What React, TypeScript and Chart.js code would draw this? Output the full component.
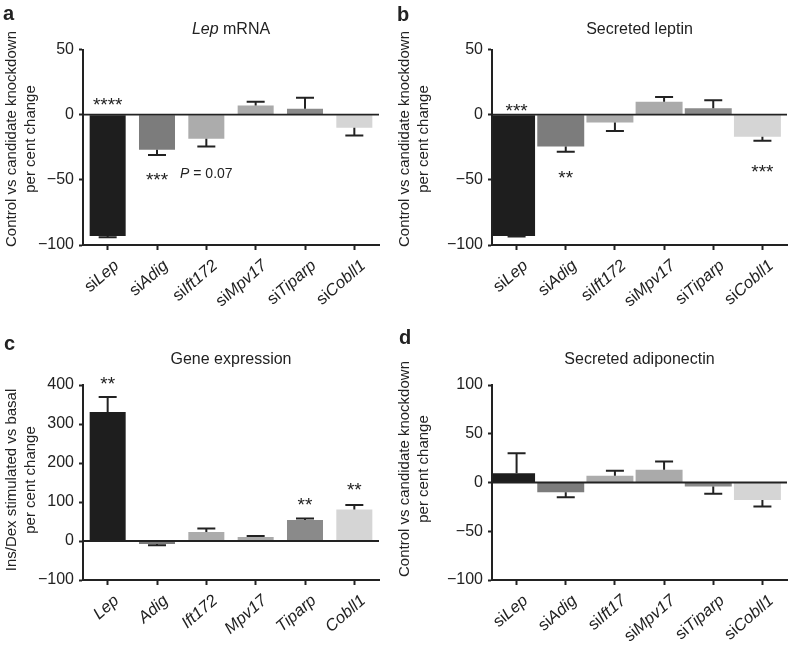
import React, { useEffect, useRef } from 'react';
import { Chart, registerables } from 'chart.js';

Chart.register(...registerables);

const FONT = "Arial, 'Liberation Sans', Helvetica, sans-serif";
const INK = '#222222';

// ---------- data ----------
const siCategories = ['siLep', 'siAdig', 'siIft172', 'siMpv17', 'siTiparp', 'siCobll1'];
const siCategoriesD = ['siLep', 'siAdig', 'siIft17', 'siMpv17', 'siTiparp', 'siCobll1'];
const geneCategories = ['Lep', 'Adig', 'Ift172', 'Mpv17', 'Tiparp', 'Cobll1'];
const barColors = ['#1e1e1e', '#7c7c7c', '#acacac', '#aaaaaa', '#8a8a8a', '#d5d5d5'];

// a: Lep mRNA
const lepMrnaValues = [-93, -27, -18.5, 7, 4.5, -10];
const lepMrnaErrors = [1, 4, 6, 3, 8.5, 6];
const lepMrnaAnnot = ['****', '***', 'P = 0.07', '', '', ''];
const lepMrnaAnnotY = [11, -46, -45, null, null, null];

// b: Secreted leptin
const leptinValues = [-93, -24.5, -6, 10, 5, -17];
const leptinErrors = [0.5, 4, 6.5, 3.5, 6, 3];
const leptinAnnot = ['***', '**', '', '', '', '***'];
const leptinAnnotY = [7, -45, null, null, null, -40];

// c: Gene expression
const geneExprValues = [331, -8, 23, 10, 54, 81];
const geneExprErrors = [38, 3, 9, 3, 4, 11];
const geneExprAnnot = ['**', '', '', '', '**', '**'];
const geneExprAnnotY = [415, null, null, null, 106, 143];

// d: Secreted adiponectin
const adipoValues = [9.5, -10, 7, 13, -4, -18];
const adipoErrors = [20.5, 5, 5, 8.5, 7.5, 6.5];
const adipoAnnot = ['', '', '', '', '', ''];
const adipoAnnotY = [null, null, null, null, null, null];

// axis ranges [min, max, step]
const yRangeA = [-100, 50, 50];
const yRangeB = [-100, 50, 50];
const yRangeC = [-100, 400, 100];
const yRangeD = [-100, 100, 50];

const yTitleKnockdown = ['Control vs candidate knockdown', 'per cent change'];
const yTitleInsDex = ['Ins/Dex stimulated vs basal', 'per cent change'];

// ---------- layout / style ----------
const W = 394;
const H = 323;
const CAP = 18;
const LABEL_ANGLE = (41 * Math.PI) / 180;
const LABEL_SIZE = 16.5;

type Part = [string, boolean];

interface Panel {
  key: string;
  left: number;
  top: number;
  area: { left: number; right: number; top: number; bottom: number };
  categories: string[];
  values: number[];
  errors: number[];
  annot: string[];
  annotY: (number | null)[];
  range: number[];
  title: Part[];
  titleY: number;
  yTitle: string[];
  yTitleX: number;
  yTitleCY: number;
  letter: string;
  letterX: number;
  letterY: number;
  barPct: number;
  barShift: number;
}

const panels: Panel[] = [
  {
    key: 'a', left: 0, top: 0,
    area: { left: 83, right: 379, top: 49.5, bottom: 245 },
    categories: siCategories, values: lepMrnaValues, errors: lepMrnaErrors,
    annot: lepMrnaAnnot, annotY: lepMrnaAnnotY, range: yRangeA,
    title: [['Lep', true], [' mRNA', false]], titleY: 33.5,
    yTitle: yTitleKnockdown, yTitleX: 12, yTitleCY: 139,
    letter: 'a', letterX: 3, letterY: 20, barPct: 0.73, barShift: 0,
  },
  {
    key: 'b', left: 394, top: 0,
    area: { left: 98, right: 393, top: 49.5, bottom: 245 },
    categories: siCategories, values: leptinValues, errors: leptinErrors,
    annot: leptinAnnot, annotY: leptinAnnotY, range: yRangeB,
    title: [['Secreted leptin', false]], titleY: 33.5,
    yTitle: yTitleKnockdown, yTitleX: 11, yTitleCY: 139,
    letter: 'b', letterX: 3, letterY: 21, barPct: 0.955, barShift: -5,
  },
  {
    key: 'c', left: 0, top: 323,
    area: { left: 83, right: 379, top: 62, bottom: 257 },
    categories: geneCategories, values: geneExprValues, errors: geneExprErrors,
    annot: geneExprAnnot, annotY: geneExprAnnotY, range: yRangeC,
    title: [['Gene expression', false]], titleY: 41,
    yTitle: yTitleInsDex, yTitleX: 12, yTitleCY: 157,
    letter: 'c', letterX: 4, letterY: 27, barPct: 0.73, barShift: 0,
  },
  {
    key: 'd', left: 394, top: 323,
    area: { left: 98, right: 393, top: 62, bottom: 257 },
    categories: siCategoriesD, values: adipoValues, errors: adipoErrors,
    annot: adipoAnnot, annotY: adipoAnnotY, range: yRangeD,
    title: [['Secreted adiponectin', false]], titleY: 41,
    yTitle: yTitleKnockdown, yTitleX: 11, yTitleCY: 146,
    letter: 'd', letterX: 5, letterY: 21, barPct: 0.955, barShift: -5,
  },
];

function font(size: number, italic = false, bold = false) {
  return `${italic ? 'italic ' : ''}${bold ? 'bold ' : ''}${size}px ${FONT}`;
}

function splitLabel(label: string): Part[] {
  if (label.startsWith('si')) return [['si', false], [label.slice(2), true]];
  return [[label, true]];
}

function drawRich(ctx: CanvasRenderingContext2D, parts: Part[], size: number, x: number, y: number, align: 'left' | 'center' | 'right') {
  const widths = parts.map(([t, it]) => {
    ctx.font = font(size, it);
    return ctx.measureText(t).width;
  });
  const total = widths.reduce((s, w) => s + w, 0);
  let cx = align === 'left' ? x : align === 'center' ? x - total / 2 : x - total;
  ctx.textAlign = 'left';
  parts.forEach(([t, it], i) => {
    ctx.font = font(size, it);
    ctx.fillText(t, cx, y);
    cx += widths[i];
  });
}

function makeChart(canvas: HTMLCanvasElement, p: Panel) {
  const decor = {
    id: 'decor' + p.key,
    beforeDatasetsDraw(chart: any) {
      const { ctx, chartArea: a } = chart;
      ctx.save();
      ctx.beginPath();
      ctx.rect(a.left + 1, a.top - 2, a.right - a.left, a.bottom - a.top + 4);
      ctx.clip();
      ctx.translate(p.barShift, 0);
    },
    afterDatasetsDraw(chart: any) {
      const { ctx, chartArea: a, scales } = chart;
      ctx.restore();
      const xs = scales.x;
      const ys = scales.y;
      ctx.save();
      ctx.strokeStyle = INK;
      // zero line
      const y0 = ys.getPixelForValue(0);
      ctx.lineWidth = 1.8;
      ctx.beginPath();
      ctx.moveTo(a.left, y0);
      ctx.lineTo(a.right, y0);
      ctx.stroke();
      // error bars (one-sided, away from zero)
      ctx.lineWidth = 2;
      p.values.forEach((v, i) => {
        const cx = xs.getPixelForValue(i);
        const dir = v >= 0 ? 1 : -1;
        const yv = ys.getPixelForValue(v);
        const ye = ys.getPixelForValue(v + dir * p.errors[i]);
        ctx.beginPath();
        ctx.moveTo(cx, yv);
        ctx.lineTo(cx, ye);
        ctx.moveTo(cx - CAP / 2, ye);
        ctx.lineTo(cx + CAP / 2, ye);
        ctx.stroke();
      });
      ctx.restore();
    },
    afterDraw(chart: any) {
      const { ctx, chartArea: a, scales } = chart;
      const xs = scales.x;
      const ys = scales.y;
      ctx.save();
      ctx.fillStyle = INK;
      // x labels, rotated, si regular + gene italic
      p.categories.forEach((c, i) => {
        const cx = xs.getPixelForValue(i);
        ctx.save();
        ctx.translate(cx + 9, a.bottom + 18.5);
        ctx.rotate(-LABEL_ANGLE);
        ctx.textBaseline = 'middle';
        drawRich(ctx, splitLabel(c), LABEL_SIZE, 0, 0, 'right');
        ctx.restore();
      });
      // title
      ctx.textBaseline = 'alphabetic';
      drawRich(ctx, p.title, 16, (a.left + a.right) / 2, p.titleY, 'center');
      // y-axis title (two lines)
      ctx.save();
      ctx.translate(p.yTitleX, p.yTitleCY);
      ctx.rotate(-Math.PI / 2);
      ctx.textAlign = 'center';
      ctx.textBaseline = 'middle';
      ctx.font = font(15);
      p.yTitle.forEach((line, i) => ctx.fillText(line, 0, i * 19));
      ctx.restore();
      // panel letter
      ctx.font = font(20, false, true);
      ctx.textAlign = 'left';
      ctx.textBaseline = 'alphabetic';
      ctx.fillText(p.letter, p.letterX, p.letterY);
      // significance annotations
      p.annot.forEach((t, i) => {
        const yv = p.annotY[i];
        if (!t || yv === null) return;
        const cx = xs.getPixelForValue(i);
        const cy = ys.getPixelForValue(yv);
        if (t.startsWith('P')) {
          drawRich(ctx, [['P', true], [t.slice(1), false]], 14, cx, cy + 5, 'center');
        } else {
          ctx.font = font(19);
          ctx.textAlign = 'center';
          ctx.fillText(t, cx, cy + 11);
        }
      });
      ctx.restore();
    },
  };

  return new Chart(canvas, {
    type: 'bar',
    data: {
      labels: p.categories,
      datasets: [
        {
          data: p.values,
          backgroundColor: barColors,
          borderWidth: 0,
          barPercentage: p.barPct,
          categoryPercentage: 1,
        },
      ],
    },
    options: {
      responsive: false,
      animation: false,
      events: [],
      layout: { padding: { left: 0, right: W - p.area.right, top: p.area.top, bottom: 0 } },
      plugins: { legend: { display: false }, tooltip: { enabled: false }, title: { display: false } },
      scales: {
        x: {
          type: 'category',
          offset: true,
          grid: { display: true, offset: false, drawOnChartArea: false, drawTicks: true, tickLength: 5, tickWidth: 2, tickColor: INK },
          border: { display: true, width: 2, color: INK },
          ticks: { display: false },
          afterFit: (s: any) => { s.height = H - p.area.bottom; },
        },
        y: {
          min: p.range[0],
          max: p.range[1],
          ticks: {
            stepSize: p.range[2],
            font: { family: FONT, size: 16 },
            color: INK,
            padding: 5,
            callback: (v: any) => String(v).replace('-', '\u2212'),
          },
          grid: { display: true, drawOnChartArea: false, drawTicks: true, tickLength: 4, tickWidth: 2, tickColor: INK },
          border: { display: true, width: 2, color: INK },
          afterFit: (s: any) => { s.width = p.area.left; },
        },
      },
    },
    plugins: [decor],
  } as any);
}

function PanelChart({ p }: { p: Panel }) {
  const ref = useRef<HTMLCanvasElement>(null);
  useEffect(() => {
    if (!ref.current) return;
    const chart = makeChart(ref.current, p);
    return () => chart.destroy();
  }, [p]);
  return (
    <canvas
      ref={ref}
      width={W}
      height={H}
      style={{ position: 'absolute', left: p.left, top: p.top, width: W, height: H, display: 'block' }}
    />
  );
}

export default function App() {
  return (
    <div style={{ position: 'absolute', left: 0, top: 0, width: 788, height: 646, background: '#ffffff', overflow: 'hidden' }}>
      {panels.map((p) => (
        <PanelChart key={p.key} p={p} />
      ))}
    </div>
  );
}
